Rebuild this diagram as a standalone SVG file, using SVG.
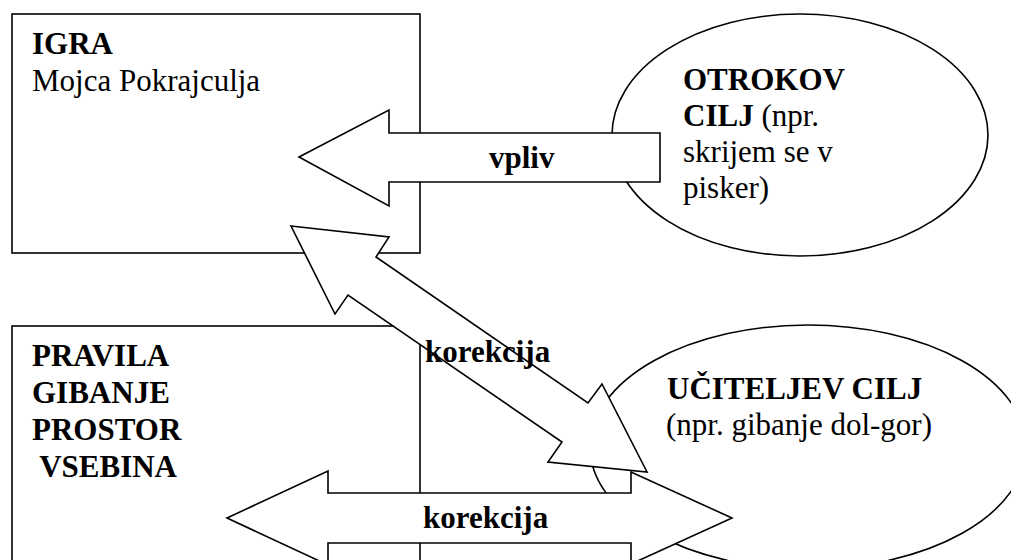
<svg xmlns="http://www.w3.org/2000/svg" width="1011" height="560" viewBox="0 0 1011 560">
<style>
.shape{fill:#fff;stroke:#000;stroke-width:1.6}
.t{font-family:"Liberation Serif","Times New Roman",serif;font-size:31px;fill:#000}
.b{font-weight:bold}
</style>
<rect width="1011" height="560" fill="#fff"/>
<g id="igra">
<rect class="shape" x="12" y="14" width="408" height="239"/>
<text class="t b" x="32" y="54">IGRA</text>
<text class="t" x="32" y="91">Mojca Pokrajculja</text>
</g>
<g id="pravila">
<rect class="shape" x="12" y="326" width="408" height="260"/>
<text class="t b" x="32" y="366">PRAVILA</text>
<text class="t b" x="32" y="403">GIBANJE</text>
<text class="t b" x="32" y="440">PROSTOR</text>
<text class="t b" x="32" y="477" xml:space="preserve"> VSEBINA</text>
</g>
<g id="otrokov">
<ellipse class="shape" cx="800" cy="135" rx="188" ry="121"/>
<text class="t" x="683" y="90"><tspan class="b">OTROKOV</tspan></text>
<text class="t" x="683" y="126"><tspan class="b">CILJ</tspan> (npr.</text>
<text class="t" x="683" y="162">skrijem se v</text>
<text class="t" x="683" y="198">pisker)</text>
</g>
<g id="ucitelj">
<ellipse class="shape" cx="808" cy="447" rx="218" ry="122"/>
<text class="t b" x="667" y="399">UČITELJEV CILJ</text>
<text class="t" x="666" y="435">(npr. gibanje dol-gor)</text>
</g>
<g id="connectors">
<polygon class="shape" points="299,157 389,110 389,133 660,133 660,182 389,182 389,206"/>
<polygon class="shape" points="291,226 389,237 376,257 588,403 602,384 647,472 548,462 562,442 348,295 335,314"/>
<polygon class="shape" points="227,518 328,471 328,493 631,493 631,472 732,518 631,564 631,543 328,543 328,565"/>
<text class="t b" x="489" y="168">vpliv</text>
<text class="t b" x="425" y="362">korekcija</text>
<text class="t b" x="423" y="528">korekcija</text>
</g>
</svg>
